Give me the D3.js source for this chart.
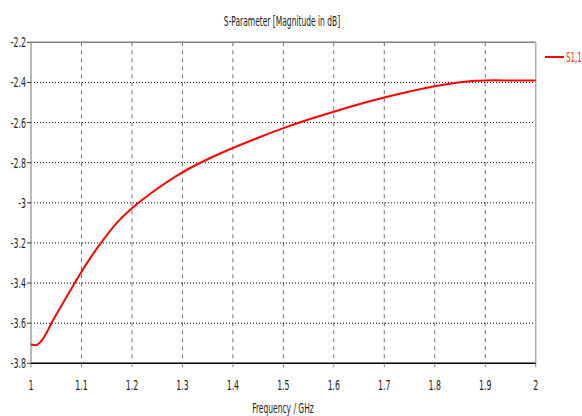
<!DOCTYPE html>
<html><head><meta charset="utf-8">
<script src="https://cdn.jsdelivr.net/npm/d3@7/dist/d3.min.js"></script>
<style>
html,body{margin:0;padding:0;background:#fff;}
svg{display:block;}
text{font-family:"DejaVu Sans Condensed","Liberation Sans Narrow","DejaVu Sans",sans-serif;}
</style></head>
<body>
<svg id="c" width="582" height="416"></svg>
<script>
const titleText = "S-Parameter [Magnitude in dB]";
const xLabelText = "Frequency / GHz";
const seriesName = "S1,1";
const freq = [1.00,1.01,1.02,1.03,1.04,1.05,1.06,1.08,1.10,1.12,1.14,1.17,1.20,1.25,1.30,1.35,1.40,1.45,1.50,1.55,1.60,1.65,1.70,1.75,1.80,1.85,1.88,1.90,1.95,2.00];
const s11  = [-3.705,-3.71,-3.69,-3.652,-3.603,-3.558,-3.514,-3.428,-3.344,-3.266,-3.195,-3.1,-3.027,-2.93,-2.848,-2.783,-2.727,-2.676,-2.628,-2.585,-2.546,-2.509,-2.475,-2.445,-2.419,-2.399,-2.392,-2.390,-2.390,-2.391];
const xTicks = [1,1.1,1.2,1.3,1.4,1.5,1.6,1.7,1.8,1.9,2];
const yTicks = [-2.2,-2.4,-2.6,-2.8,-3,-3.2,-3.4,-3.6,-3.8];

const svg = d3.select("#c");
const L = 31, R = 535.7, T = 42.3, B = 363.3;
const x = d3.scaleLinear().domain([1,2]).range([L,R]);
const y = d3.scaleLinear().domain([-3.8,-2.2]).range([B,T]);
const SX = 0.62;

// grid
svg.append("g").selectAll("line").data(xTicks.slice(1,-1)).join("line")
  .attr("x1",d=>x(d)).attr("x2",d=>x(d)).attr("y1",T).attr("y2",B)
  .attr("stroke","#707070").attr("stroke-width",1).attr("stroke-dasharray","4,4");
svg.append("g").selectAll("line").data(yTicks.slice(1,-1)).join("line")
  .attr("x1",L).attr("x2",R).attr("y1",d=>y(d)).attr("y2",d=>y(d))
  .attr("stroke","#000").attr("stroke-width",1).attr("stroke-dasharray","1,2");

// frame
svg.append("line").attr("x1",L).attr("x2",R).attr("y1",T).attr("y2",T).attr("stroke","#808080").attr("stroke-width",1.5);
svg.append("line").attr("x1",L).attr("x2",L).attr("y1",T).attr("y2",B).attr("stroke","#a0a0a0").attr("stroke-width",1.5);
svg.append("line").attr("x1",R).attr("x2",R).attr("y1",T).attr("y2",B).attr("stroke","#b0b0b0").attr("stroke-width",1.5);
svg.append("line").attr("x1",L).attr("x2",R).attr("y1",B).attr("y2",B).attr("stroke","#000").attr("stroke-width",1.5);

// ticks
svg.append("g").selectAll("line").data(xTicks).join("line")
  .attr("x1",d=>x(d)).attr("x2",d=>x(d)).attr("y1",B).attr("y2",B+4).attr("stroke","#888");
svg.append("g").selectAll("line").data(yTicks).join("line")
  .attr("x1",L-4).attr("x2",L).attr("y1",d=>y(d)).attr("y2",d=>y(d)).attr("stroke","#333");

// tick labels
const fmt = d => String(d);
svg.append("g").selectAll("text").data(xTicks).join("text")
  .attr("transform",d=>`translate(${x(d)},390) scale(${SX},1)`)
  .attr("text-anchor","middle").attr("font-size",14).attr("fill","#222").text(fmt);
svg.append("g").selectAll("text").data(yTicks).join("text")
  .attr("transform",d=>`translate(${L-5},${y(d)+5}) scale(${SX},1)`)
  .attr("text-anchor","end").attr("font-size",14).attr("fill","#222").text(fmt);

// title and axis label
svg.append("text").attr("transform",`translate(282,26) scale(${SX},1)`)
  .attr("text-anchor","middle").attr("font-size",13.5).attr("fill","#222").text(titleText);
svg.append("text").attr("transform",`translate(283,413) scale(${SX},1)`)
  .attr("text-anchor","middle").attr("font-size",13.5).attr("fill","#222").text(xLabelText);

// curve
const line = d3.line().x((d,i)=>x(freq[i])).y(d=>y(d)).curve(d3.curveCatmullRom.alpha(0.5));
svg.append("path").attr("d",line(s11)).attr("fill","none").attr("stroke","#ff0000").attr("stroke-width",2);

// legend
svg.append("line").attr("x1",545).attr("x2",564).attr("y1",57).attr("y2",57).attr("stroke","#ff0000").attr("stroke-width",2);
svg.append("text").attr("transform",`translate(566,62) scale(0.56,1)`)
  .attr("font-size",14).attr("fill","#ff3030").text(seriesName);
</script>
</body></html>
